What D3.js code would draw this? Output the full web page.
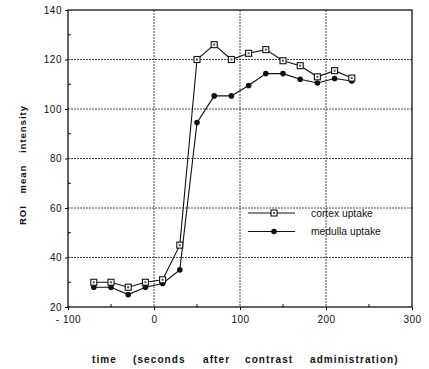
<!DOCTYPE html>
<html><head><meta charset="utf-8">
<script src="https://cdn.jsdelivr.net/npm/d3@7"></script>
<style>body{margin:0;background:#fff}svg{display:block}text{font-family:"Liberation Sans",Arial,sans-serif;fill:#111}</style>
</head><body>
<script>
const times = [-70,-50,-30,-10,10,30,50,70,90,110,130,150,170,190,210,230];
const cortex = [30,30,28,30,31,45,120,126,120,122.5,124,119.5,117.5,113,115.5,112.5];
const medulla = [28,28,25,28,29.5,35,94.5,105.3,105.3,109.5,114.3,114.3,112,110.5,112.3,111.3];
const xTicks = [-100,0,100,200,300];
const yTicks = [20,40,60,80,100,120,140];
const seriesNames = ["cortex uptake","medulla uptake"];
const xWords = ["time","(seconds","after","contrast","administration)"];

const W=429,H=369;
const svg=d3.select("body").append("svg").attr("width",W).attr("height",H);
const x=d3.scaleLinear().domain([-100,300]).range([68,412]);
const y=d3.scaleLinear().domain([20,140]).range([307,10]);

// grid
const g=svg.append("g");
g.selectAll(".gx").data(xTicks.slice(1,-1)).enter().append("line")
 .attr("x1",d=>x(d)).attr("x2",d=>x(d)).attr("y1",y(140)).attr("y2",y(20))
 .attr("stroke","#333").attr("stroke-width",0.9).attr("stroke-dasharray","2,1");
g.selectAll(".gy").data(yTicks.slice(1,-1)).enter().append("line")
 .attr("y1",d=>y(d)).attr("y2",d=>y(d)).attr("x1",x(-100)).attr("x2",x(300))
 .attr("stroke","#333").attr("stroke-width",0.9).attr("stroke-dasharray","2,1");

// frame
svg.append("rect").attr("x",x(-100)).attr("y",y(140)).attr("width",x(300)-x(-100)).attr("height",y(20)-y(140))
 .attr("fill","none").attr("stroke","#111").attr("stroke-width",1.3);

// axes
const xAxis=d3.axisBottom(x).tickValues(xTicks).tickSize(3).tickPadding(6).tickFormat(d=>d<0?"- "+Math.abs(d):d);
const xa=svg.append("g").attr("transform",`translate(0,${y(20)})`).call(xAxis);
const yAxis=d3.axisLeft(y).tickValues(yTicks).tickSize(3).tickPadding(3);
const ya=svg.append("g").attr("transform",`translate(${x(-100)},0)`).call(yAxis);
[xa,ya].forEach(a=>{a.select(".domain").remove();a.selectAll("line").attr("stroke","#111");a.selectAll("text").attr("font-size",10).attr("fill","#111").style("letter-spacing","0.5px");});
// minor inward ticks
const xMinor=d3.range(-50,300,100);
svg.selectAll(".mx").data(xMinor).enter().append("line").attr("x1",d=>x(d)).attr("x2",d=>x(d))
 .attr("y1",y(20)).attr("y2",y(20)-3).attr("stroke","#111");
const yMinor=d3.range(30,140,20);
svg.selectAll(".my").data(yMinor).enter().append("line").attr("y1",d=>y(d)).attr("y2",d=>y(d))
 .attr("x1",x(-100)).attr("x2",x(-100)+3).attr("stroke","#111");

// lines
const line=d3.line().x((d,i)=>x(times[i])).y(d=>y(d));
svg.append("path").datum(cortex).attr("d",line).attr("fill","none").attr("stroke","#111").attr("stroke-width",1.1);
svg.append("path").datum(medulla).attr("d",line).attr("fill","none").attr("stroke","#111").attr("stroke-width",1.1);
svg.selectAll(".mc").data(medulla).enter().append("circle").attr("cx",(d,i)=>x(times[i])).attr("cy",d=>y(d)).attr("r",2.8).attr("fill","#111");
function sq(sel){sel.append("rect").attr("x",-3).attr("y",-3).attr("width",6).attr("height",6).attr("fill","#fff").attr("stroke","#111").attr("stroke-width",1.1);
 sel.append("rect").attr("x",-1).attr("y",-1).attr("width",2).attr("height",2).attr("fill","#555");}
svg.selectAll(".sc").data(cortex).enter().append("g").attr("transform",(d,i)=>`translate(${x(times[i])},${y(d)})`).call(sq);

// legend
const lg=svg.append("g");
const ly=[213,231.5];
lg.append("line").attr("x1",248).attr("x2",295).attr("y1",ly[0]).attr("y2",ly[0]).attr("stroke","#111").attr("stroke-width",1.1);
lg.append("g").attr("transform",`translate(274,${ly[0]})`).call(sq);
lg.append("line").attr("x1",248).attr("x2",295).attr("y1",ly[1]).attr("y2",ly[1]).attr("stroke","#111").attr("stroke-width",1.1);
lg.append("circle").attr("cx",274).attr("cy",ly[1]).attr("r",2.8).attr("fill","#111");
lg.selectAll("text").data(seriesNames).enter().append("text").attr("x",311).attr("y",(d,i)=>ly[i]+3.5)
 .attr("font-size",10.3).text(d=>d);

// axis titles
const wx=[92,133,203,245,310];
svg.selectAll(".xw").data(xWords).enter().append("text").attr("x",(d,i)=>wx[i]).attr("y",363)
 .attr("font-size",10).attr("font-weight","bold").style("letter-spacing","1.1px").text(d=>d);
svg.append("text").attr("transform","translate(26,165) rotate(-90)").attr("text-anchor","middle")
 .attr("font-size",9.5).attr("font-weight","bold").style("letter-spacing","1px").style("word-spacing","8px").text("ROI mean intensity");
</script>
</body></html>
